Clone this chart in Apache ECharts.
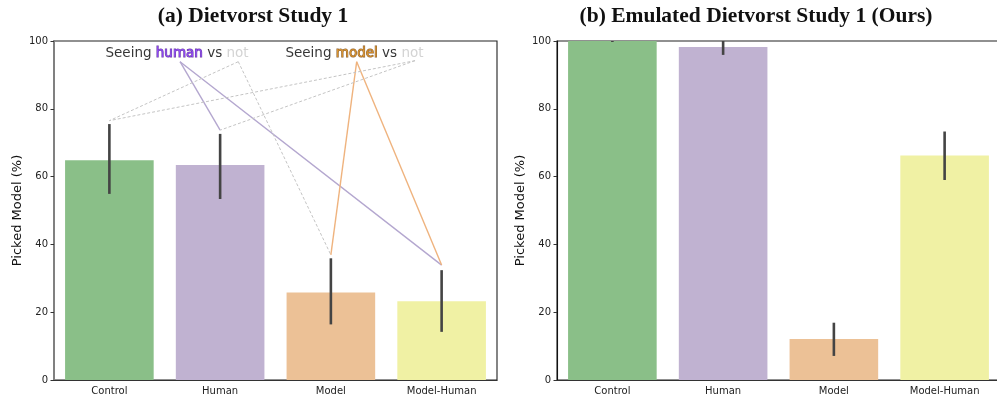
<!DOCTYPE html>
<html>
<head>
<meta charset="utf-8">
<script src="https://cdn.jsdelivr.net/npm/echarts@6/dist/echarts.min.js"></script>
<style>html,body{margin:0;padding:0;background:#fff;overflow:hidden;width:997px;height:400px}#c{width:1006px;height:400px}</style>
</head>
<body>
<div id="c"></div>
<script>
// ---- data ----
const categories = ['Control', 'Human', 'Model', 'Model-Human'];
const barColors = ['#8abf88', '#c0b2d1', '#ecc196', '#f0f1a4'];
const leftMean = [64.8, 63.4, 25.8, 23.2];
const leftLo   = [54.9, 53.4, 16.4, 14.2];
const leftHi   = [75.5, 72.6, 35.9, 32.4];
const rightMean = [100, 98.2, 12.1, 66.2];
const rightLo   = [99.7, 95.9, 7.1, 59.0];
const rightHi   = [100, 100, 16.9, 73.3];
const titles = ['(a) Dietvorst Study 1', '(b) Emulated Dietvorst Study 1 (Ours)'];
const yName = 'Picked Model (%)';
// annotation text positions (x on continuous category scale, y in %)
const annotText = ['{b|Seeing }{h|human}{b| vs }{n|not}', '{b|Seeing }{m|model}{b| vs }{n|not}'];
const annotTextX = [0.611, 2.213];
const annotTextY = [96.2, 96.2];
// annotation connector lines: [x0, y0, x1, y1, kind]
const annotLines = [
  [0.638, 93.9, 1, 73.7, 'human'],
  [0.638, 93.9, 3, 33.9, 'human'],
  [1.164, 93.9, 0, 76.5, 'not'],
  [1.164, 93.9, 2, 36.9, 'not'],
  [2.233, 93.9, 2, 36.9, 'model'],
  [2.233, 93.9, 3, 33.9, 'model'],
  [2.760, 94.2, 0, 76.5, 'not'],
  [2.760, 94.2, 1, 73.7, 'not']
];
const lineStyles = {
  human: {color: '#b4a7cf', width: 1.4, type: 'solid'},
  model: {color: '#efb37e', width: 1.4, type: 'solid'},
  not:   {color: '#c4c4c4', width: 1, type: [3, 2]}
};

// ---- chart ----
const chart = echarts.init(document.getElementById('c'), null, {renderer: 'canvas'});
const font = 'DejaVu Sans';
const grids = [
  {left: 54, top: 41, width: 443, height: 339, show: true, borderColor: '#222', borderWidth: 1.1, backgroundColor: 'transparent'},
  {left: 557, top: 41, width: 443, height: 339, show: true, borderColor: '#222', borderWidth: 1.1, backgroundColor: 'transparent'}
];
function catAxis(g) {
  return {
    type: 'category', gridIndex: g, data: categories,
    axisLine: {lineStyle: {color: '#333', width: 1.2}},
    axisTick: {alignWithLabel: true, length: 3.5, lineStyle: {color: '#333'}},
    axisLabel: {color: '#222', fontFamily: font, fontSize: 10, margin: 6}
  };
}
function valAxis(g, spineColor, spineWidth) {
  return {
    type: 'value', gridIndex: g, min: 0, max: 100, interval: 20,
    name: yName, nameLocation: 'middle', nameGap: 30,
    nameTextStyle: {fontFamily: font, fontSize: 13, color: '#111'},
    splitLine: {show: false},
    axisLine: {show: true, onZero: false, lineStyle: {color: spineColor, width: spineWidth}},
    axisTick: {show: true, length: 3.5, lineStyle: {color: '#333'}},
    axisLabel: {color: '#222', fontFamily: font, fontSize: 10, margin: 6}
  };
}
function errSeries(xi, yi, lo, hi) {
  return {
    type: 'custom', xAxisIndex: xi, yAxisIndex: yi, z: 5,
    data: categories.map((c, i) => [i, lo[i], hi[i]]),
    renderItem: function (params, api) {
      const p0 = api.coord([api.value(0), api.value(1)]);
      const p1 = api.coord([api.value(0), api.value(2)]);
      return {type: 'line', shape: {x1: p0[0], y1: p0[1], x2: p1[0], y2: p1[1]},
        style: {stroke: '#444', lineWidth: 2.6}};
    }
  };
}
function barSeries(xi, yi, vals) {
  return {
    type: 'bar', xAxisIndex: xi, yAxisIndex: yi, barCategoryGap: '20%',
    data: vals.map((v, i) => ({value: v, itemStyle: {color: barColors[i]}}))
  };
}
const series = [
  barSeries(0, 0, leftMean), errSeries(0, 0, leftLo, leftHi),
  barSeries(1, 1, rightMean), errSeries(1, 1, rightLo, rightHi)
];
annotLines.forEach(l => {
  series.push({
    type: 'line', xAxisIndex: 2, yAxisIndex: 0, z: 6, symbol: 'none', silent: true,
    data: [[l[0], l[1]], [l[2], l[3]]],
    lineStyle: lineStyles[l[4]]
  });
});
series.push({
  type: 'scatter', xAxisIndex: 2, yAxisIndex: 0, z: 7, symbolSize: 0, silent: true,
  data: annotTextX.map((x, i) => ({value: [x, annotTextY[i]], label: {formatter: annotText[i]}})),
  label: {
    show: true, position: 'inside', align: 'center', verticalAlign: 'middle',
    fontFamily: font, fontSize: 13.5,
    rich: {
      b: {color: '#000', fontFamily: font, fontSize: 13.5},
      h: {color: '#8c3cff', textBorderColor: '#4a168a', textBorderWidth: 1, fontFamily: font, fontSize: 13.5},
      m: {color: '#e39520', textBorderColor: '#6a3a06', textBorderWidth: 1, fontFamily: font, fontSize: 13.5},
      n: {color: '#c8c8c8', fontFamily: font, fontSize: 13.5}
    }
  }
});

chart.setOption({
  animation: false,
  grid: grids,
  xAxis: [catAxis(0), catAxis(1),
    {type: 'value', gridIndex: 0, min: -0.5, max: 3.5, show: false}],
  yAxis: [valAxis(0, '#808080', 2), valAxis(1, '#111', 1.1)],
  graphic: [
    {type: 'text', x: 253, y: 16, style: {text: titles[0], align: 'center', verticalAlign: 'middle', font: 'bold 21.5px "Liberation Serif"', fill: '#111'}},
    {type: 'text', x: 756, y: 16, style: {text: titles[1], align: 'center', verticalAlign: 'middle', font: 'bold 21.5px "Liberation Serif"', fill: '#111'}}
  ],
  series: series
});
</script>
</body>
</html>
